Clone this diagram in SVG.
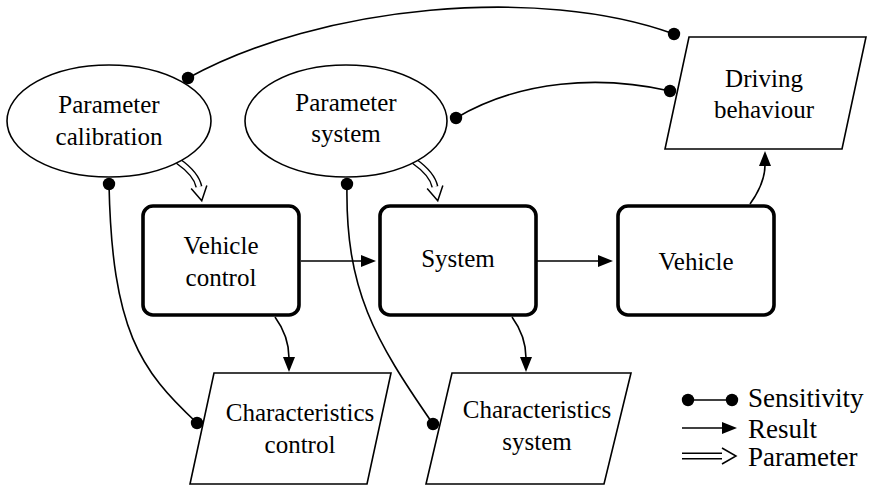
<svg xmlns="http://www.w3.org/2000/svg" width="872" height="486" viewBox="0 0 872 486" font-family="'Liberation Serif', 'DejaVu Serif', serif">
<style>
text{font-family:'Liberation Serif','DejaVu Serif',serif;font-size:25px;fill:#000;text-anchor:middle}
.leg{font-size:27px;text-anchor:start}
.ell{fill:#fff;stroke:#000;stroke-width:1.6}
.box{fill:#fff;stroke:#000;stroke-width:3.6}
.par{fill:#fff;stroke:#000;stroke-width:1.6}
.sens{fill:none;stroke:#000;stroke-width:1.6;marker-start:url(#dot);marker-end:url(#dot)}
.res{fill:none;stroke:#000;stroke-width:1.6;marker-end:url(#arr)}
.pout{fill:none;stroke:#000;stroke-width:7}
.pin{fill:none;stroke:#fff;stroke-width:4;marker-end:url(#hol)}
</style>
<defs>
<marker id="dot" viewBox="-7 -7 14 14" refX="0" refY="0" markerWidth="14" markerHeight="14" markerUnits="userSpaceOnUse"><circle r="6.2" fill="#000"/></marker>
<marker id="arr" viewBox="-1 -8 17 16" refX="0" refY="0" markerWidth="17" markerHeight="16" markerUnits="userSpaceOnUse" orient="auto"><path d="M-1,-6 L14,0 L-1,6 z" fill="#000"/></marker>
<marker id="hol" viewBox="-1 -10 18 20" refX="0" refY="0" markerWidth="18" markerHeight="20" markerUnits="userSpaceOnUse" orient="auto"><path d="M0,-8 L14,0 L0,8" fill="#fff" stroke="#000" stroke-width="1.5"/></marker>
</defs>
<g id="connectors">
<path class="sens" d="M188,78 C320,5 540,-15 674,34"/>
<path class="sens" d="M456,118 C520,80 600,75 670,91"/>
<path class="sens" d="M109,184 C112,330 140,370 197,423"/>
<path class="sens" d="M347,184 C345,290 375,340 433,424"/>
<path class="res" d="M301,261 L362,261"/>
<path class="res" d="M537,261 L599,261"/>
<path class="res" d="M750,204 C760,190 765,178 765,165"/>
<path class="res" d="M275,317 C283,328 289,340 289,358"/>
<path class="res" d="M512,317 C520,328 526,340 526,358"/>
<path class="pout" d="M178,161 C188,168 197,177 199,187"/>
<path class="pin" d="M178,161 C188,168 197,177 199,187"/>
<path class="pout" d="M414,161 C424,168 433,177 435,187"/>
<path class="pin" d="M414,161 C424,168 433,177 435,187"/>
</g>
<g id="param-calibration">
<ellipse class="ell" cx="109" cy="121" rx="102" ry="56"/>
<text x="109" y="113" font-family="'Liberation Serif', serif">Parameter</text>
<text x="109" y="145" font-family="'Liberation Serif', serif">calibration</text>
</g>
<g id="param-system">
<ellipse class="ell" cx="346" cy="121" rx="101" ry="56"/>
<text x="346" y="111">Parameter</text>
<text x="346" y="142">system</text>
</g>
<g id="driving-behaviour">
<polygon class="par" points="689,37 866,37 842,149 665,149"/>
<text x="764" y="87">Driving</text>
<text x="764" y="118">behaviour</text>
</g>
<g id="vehicle-control">
<rect class="box" x="143" y="206" width="156" height="109" rx="10"/>
<text x="221" y="254">Vehicle</text>
<text x="221" y="286">control</text>
</g>
<g id="system">
<rect class="box" x="380" y="206" width="156" height="109" rx="10"/>
<text x="458" y="267">System</text>
</g>
<g id="vehicle">
<rect class="box" x="618" y="206" width="156" height="109" rx="10"/>
<text x="696" y="270">Vehicle</text>
</g>
<g id="char-control">
<polygon class="par" points="214,373 391,373 367,484 190,484"/>
<text x="300" y="421">Characteristics</text>
<text x="300" y="453">control</text>
</g>
<g id="char-system">
<polygon class="par" points="452,373 631,373 604,484 426,484"/>
<text x="537" y="418">Characteristics</text>
<text x="537" y="450">system</text>
</g>
<g id="legend">
<path class="sens" d="M688,400 L732,400"/>
<path class="res" d="M682,428 L723,428"/>
<path class="pout" d="M682,456 L722,456"/>
<path class="pin" d="M682,456 L722,456"/>
<text class="leg" x="748" y="407">Sensitivity</text>
<text class="leg" x="748" y="438">Result</text>
<text class="leg" x="748" y="466">Parameter</text>
</g>
</svg>
